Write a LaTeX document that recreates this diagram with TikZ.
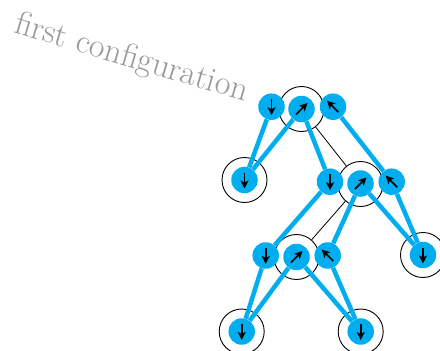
\documentclass[tikz,border=0pt]{standalone}
\usetikzlibrary{arrows.meta}
\definecolor{procyan}{RGB}{0,174,239}
\begin{document}
\begin{tikzpicture}[x=1pt,y=-1pt,
  ring/.style={circle,draw=black,line width=0.9pt,minimum size=45pt,inner sep=0pt},
  tedge/.style={black,line width=0.8pt},
  spin/.style={circle,fill=procyan,minimum size=26.5pt,inner sep=0pt},
  arr/.style={line width=1.6pt,-{Stealth[length=8pt,width=8pt,inset=2pt]}},
  sdown/.style={spin,path picture={\draw[arr]([yshift=7.5pt]path picture bounding box.center)--([yshift=-8.5pt]path picture bounding box.center);}},
  sne/.style={spin,path picture={\draw[arr]([shift={(-5.5pt,-5.5pt)}]path picture bounding box.center)--([shift={(6pt,6pt)}]path picture bounding box.center);}},
  snw/.style={spin,path picture={\draw[arr]([shift={(5.5pt,-5.5pt)}]path picture bounding box.center)--([shift={(-6pt,6pt)}]path picture bounding box.center);}},
  bond/.style={procyan,line width=4.5pt}]
\useasboundingbox (0,0) rectangle (440,351);

\node[rotate=-16.5,anchor=base,text=gray!80,font=\fontsize{34}{36}\selectfont] (title) at (129,67) {first configuration};

% tree rings
\node[ring] (R) at (301.5,109) {};
\node[ring] (L1) at (244.5,180) {};
\node[ring] (C) at (360.5,184) {};
\node[ring] (D) at (296.5,257) {};
\node[ring] (L2) at (423,255) {};
\node[ring] (L3) at (241.7,331.5) {};
\node[ring] (L4) at (360.7,331.5) {};

\draw[tedge] (R) -- (L1);
\draw[tedge] (R) -- (C);
\draw[tedge] (C) -- (D);
\draw[tedge] (C) -- (L2);
\draw[tedge] (D) -- (L3);
\draw[tedge] (D) -- (L4);

% spins
\node[sdown] (R1) at (271.5,106.7) {};
\node[sne]   (R2) at (301.5,109) {};
\node[snw]   (R3) at (333,106.7) {};
\node[sdown] (C1) at (330,181.7) {};
\node[sne]   (C2) at (360.5,183.5) {};
\node[snw]   (C3) at (391.7,181.7) {};
\node[sdown] (D1) at (265.7,255.5) {};
\node[sne]   (D2) at (296.5,257) {};
\node[snw]   (D3) at (327.7,255.5) {};
\node[sdown] (M1) at (244.5,180) {};
\node[sdown] (M2) at (423,255) {};
\node[sdown] (M3) at (241.7,331.5) {};
\node[sdown] (M4) at (360.7,331.5) {};

% bonds
\draw[bond] (R1) -- (M1);
\draw[bond] (R2) -- (M1);
\draw[bond] (R2) -- (C1);
\draw[bond] (R3) -- (C3);
\draw[bond] (C1) -- (D1);
\draw[bond] (C2) -- (D3);
\draw[bond] (C2) -- (M2);
\draw[bond] (C3) -- (M2);
\draw[bond] (D1) -- (M3);
\draw[bond] (D2) -- (M3);
\draw[bond] (D2) -- (M4);
\draw[bond] (D3) -- (M4);
\end{tikzpicture}
\end{document}
